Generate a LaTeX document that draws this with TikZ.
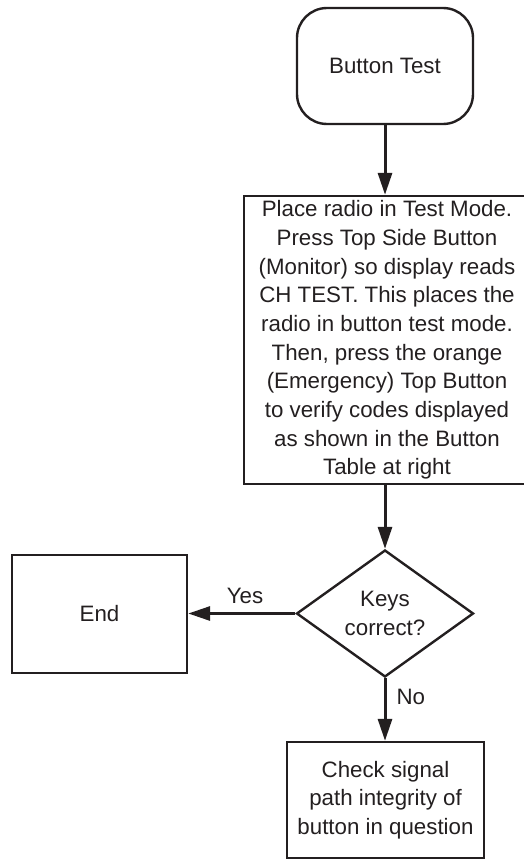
\documentclass[tikz,border=0pt]{standalone}
\usepackage{fontspec}
\setmainfont{Liberation Sans}
\usetikzlibrary{shapes.geometric,arrows.meta}
\definecolor{ink}{HTML}{231F20}
\tikzset{
  base/.style={draw=ink, line width=2.4pt, text=ink, align=center, inner sep=0pt,
    font=\fontsize{22.3}{28.7}\selectfont},
  startbox/.style={base, rectangle, rounded corners=30pt, minimum width=176pt, minimum height=116pt},
  procbox/.style={base, rectangle, minimum width=#1, minimum height=116pt},
  decbox/.style={base, diamond, aspect=1.4, minimum width=177pt, minimum height=127pt},
  flow/.style={draw=ink, line width=3pt, -{Triangle[length=22pt,width=14pt]}},
  lbl/.style={text=ink, inner sep=0pt, font=\fontsize{22.3}{26}\selectfont}
}
\begin{document}
\begin{tikzpicture}[x=1pt,y=1pt]
\useasboundingbox (0,0) rectangle (524,-859);
\node[startbox] (bt) at (385,-66) {Button Test};
\node[base, rectangle, minimum width=286pt, minimum height=288pt] (main) at (387,-340)
  {Place radio in Test Mode.\\Press Top Side Button\\(Monitor) so display reads\\CH TEST. This places the\\radio in button test mode.\\Then, press the orange\\(Emergency) Top Button\\to verify codes displayed\\as shown in the Button\\Table at right};
\node[decbox] (dec) at (385,-613.5) {Keys\\correct?};
\node[procbox=175pt, minimum height=118pt] (end) at (99.5,-614) {End};
\node[procbox=197pt] (chk) at (385.5,-800) {Check signal\\path integrity of\\button in question};
\draw[flow] (bt) -- (bt.south |- main.north);
\draw[flow] (dec.north |- main.south) -- (dec);
\draw[flow] (dec.west) -- (dec.west -| end.east) node[lbl, pos=0.47, above=8pt] (yes) {Yes};
\draw[flow] (dec.south) -- (dec.south |- chk.north) node[lbl, pos=0.3, right=10pt] (no) {No};
\end{tikzpicture}
\end{document}
